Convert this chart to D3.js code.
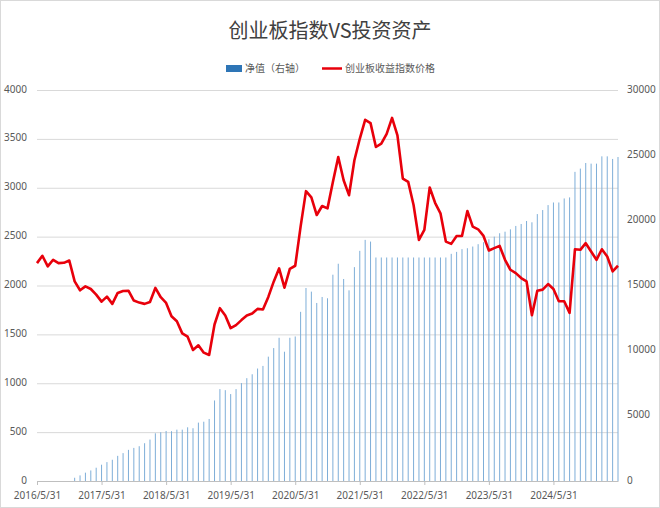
<!DOCTYPE html>
<html><head><meta charset="utf-8">
<script src="https://cdn.jsdelivr.net/npm/d3@7"></script>
<style>body{margin:0;background:#fff;font-family:"Noto Sans CJK SC","Noto Sans",sans-serif}</style>
</head><body><svg id="c" width="660" height="508"></svg>
<script>
const startYear = 2016, startMonth = 5, nMonths = 109;
const tickLabels = ["2016/5/31","2017/5/31","2018/5/31","2019/5/31","2020/5/31","2021/5/31","2022/5/31","2023/5/31","2024/5/31"];
const indexPrice = [2229,2304,2195,2263,2229,2232,2256,2042,1951,1991,1964,1907,1835,1886,1812,1924,1944,1947,1846,1825,1812,1832,1975,1880,1822,1686,1635,1510,1476,1340,1388,1313,1289,1601,1768,1693,1564,1595,1646,1693,1713,1761,1754,1883,2039,2175,1978,2171,2202,2602,2965,2901,2721,2813,2789,
3060,3315,3077,2924,3281,3501,3695,3661,3417,3451,3552,3715,3535,3094,3060,2823,2466,2568,3003,2846,2738,2449,2426,2507,2507,2762,2602,2575,2507,
2358,2382,2405,2263,2161,2127,2076,2042,1696,1947,1958,2015,1964,1839,1839,1720,2371,2365,2433,2348,2263,2371,2297,2144,2202];
const netValue = [0,0,0,0,0,0,0,250,430,640,810,1020,1250,1450,1630,1930,2140,2390,2540,2670,2900,3180,3660,3740,3840,3820,3940,3940,4120,4050,4480,4550,4760,6180,7050,6970,6670,7050,7510,7890,8190,8630,8830,9540,10200,10990,9920,10990,11090,12980,14810,14530,13660,14120,14020,
15830,16670,15500,14630,16410,17660,18500,18370,17150,17150,17150,17150,17150,17150,17150,17150,17150,17150,17150,17150,17150,17150,17430,17580,17790,17860,17990,18170,18320,
18550,18750,19010,19130,19310,19570,19720,19950,19850,20480,20790,21170,21370,21370,21680,21760,23720,23970,24400,24350,24350,24910,24910,24710,24860];
const leftTicks = [0,500,1000,1500,2000,2500,3000,3500,4000];
const rightTicks = [0,5000,10000,15000,20000,25000,30000];

const months = d3.range(nMonths).map(i=>{const m=startMonth-1+i;return (startYear+Math.floor(m/12))+"/"+(m%12+1)+"/31";});
const svg = d3.select("#c");
svg.append("rect").attr("x",0.5).attr("y",0.5).attr("width",659).attr("height",507).attr("fill","#fff").attr("stroke","#d9d9d9");
const x = d3.scalePoint().domain(months).range([37,618]);
const yL = d3.scaleLinear().domain([0,4000]).range([481,90]);
const yR = d3.scaleLinear().domain([0,30000]).range([481,90]);
const g = svg.append("g");
g.selectAll(".grid").data(leftTicks).join("line").attr("x1",37).attr("x2",618)
 .attr("y1",d=>yL(d)+.5).attr("y2",d=>yL(d)+.5).attr("stroke","#d9d9d9");
g.selectAll(".bar").data(netValue).join("rect").attr("x",(d,i)=>x(months[i])-0.5).attr("width",1)
 .attr("y",d=>yR(d)).attr("height",d=>481-yR(d)).attr("fill","#7eaed8");
const ax = g.append("g").attr("transform","translate(0,481)")
 .call(d3.axisBottom(x).tickValues(tickLabels).tickSize(4).tickSizeOuter(0));
ax.select(".domain").attr("stroke","#bfbfbf"); ax.selectAll("line").attr("stroke","#bfbfbf");
ax.selectAll("text").attr("fill","#595959").attr("font-size",10).attr("dy","1.05em").style("font-family","Noto Sans");
const al = g.append("g").attr("transform","translate(30,0)").call(d3.axisLeft(yL).tickValues(leftTicks).tickSize(0).tickFormat(d3.format("d")));
al.select(".domain").remove(); al.selectAll("text").attr("fill","#595959").attr("font-size",10).attr("dy","0.2em").style("font-family","Noto Sans");
const ar = g.append("g").attr("transform","translate(624,0)").call(d3.axisRight(yR).tickValues(rightTicks).tickSize(0).tickFormat(d3.format("d")));
ar.select(".domain").remove(); ar.selectAll("text").attr("fill","#595959").attr("font-size",10).attr("dy","0.2em").style("font-family","Noto Sans");
g.append("path").datum(indexPrice).attr("fill","none").attr("stroke","#e8000b").attr("stroke-width",2.6).attr("stroke-linejoin","round")
 .attr("d",d3.line().x((d,i)=>x(months[i])).y(d=>yL(d)));
svg.append("text").attr("x",330).attr("y",38).attr("text-anchor","middle").attr("font-size",20).attr("fill","#404040").text("创业板指数VS投资资产");
svg.append("rect").attr("x",226).attr("y",65).attr("width",16).attr("height",7).attr("fill","#2e75b6");
svg.append("text").attr("x",245).attr("y",72).attr("font-size",10).attr("fill","#595959").text("净值（右轴）");
svg.append("line").attr("x1",322).attr("x2",342).attr("y1",68.5).attr("y2",68.5).attr("stroke","#e8000b").attr("stroke-width",2.5);
svg.append("text").attr("x",345).attr("y",72).attr("font-size",10).attr("fill","#595959").text("创业板收益指数价格");
</script></body></html>
